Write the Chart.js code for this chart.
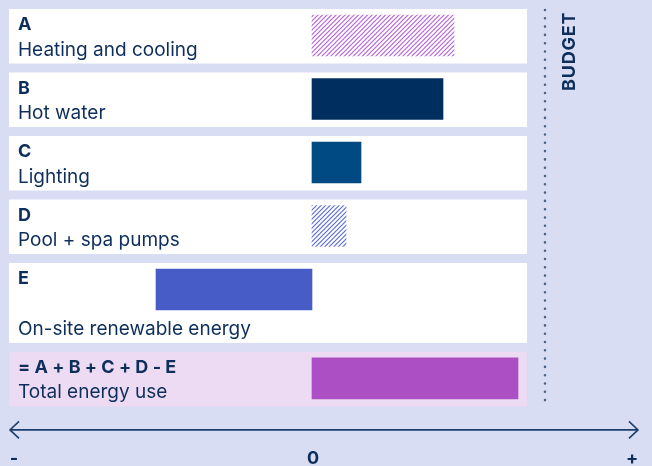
<!DOCTYPE html>
<html><head><meta charset="utf-8">
<script src="https://cdn.jsdelivr.net/npm/chart.js@4/dist/chart.umd.min.js"></script>
<style>
html,body{margin:0;padding:0;background:#D9DDF3;}
#wrap{width:652px;height:466px;position:relative;}
</style>
</head><body>
<div id="wrap"><canvas id="c"></canvas></div>
<script>
// ---- data ----
const letters = ['A', 'B', 'C', 'D', 'E', '= A + B + C + D - E'];
const labels = ['Heating and cooling', 'Hot water', 'Lighting', 'Pool + spa pumps', 'On-site renewable energy', 'Total energy use'];
const values = [14.2, 13.1, 4.9, 3.4, -15.6, 20.6];
const budgetValue = 23.3;
const budgetLabel = 'BUDGET';
const axisLabels = ['-', '0', '+'];

// ---- layout / style ----
const xMin = -30.3, xMax = 32.6;
const rowSpans = [1, 1, 1, 1, 1.4, 1];
const UNIT = 63.5;               // px per row unit
const GAP = 9 / UNIT;            // gap between panels (units)
const BAR_OFF = 26.5 / UNIT;     // bar centre below panel top
const PANEL_END = 21.5;          // panel right edge in x units
const NAVY = '#0E2F5C';
const FONT = 'Inter, "Noto Sans", sans-serif';

const rowStarts = [];
rowSpans.reduce((acc, s) => { rowStarts.push(acc); return acc + s; }, 0);
const yMax = rowStarts[rowStarts.length - 1] + rowSpans[rowSpans.length - 1];

function hatch(color) {
  const s = 9;
  const cv = document.createElement('canvas');
  cv.width = s; cv.height = s;
  const c = cv.getContext('2d');
  c.fillStyle = '#ffffff'; c.fillRect(0, 0, s, s);
  c.strokeStyle = color; c.lineWidth = 1.15;
  c.beginPath();
  for (const o of [-9, -4.5, 0, 4.5, 9]) {
    c.moveTo(o - 1, s + 1); c.lineTo(o + s + 1, -1);
  }
  c.stroke();
  return document.createElement('canvas').getContext('2d').createPattern(cv, 'repeat');
}

const colors = [hatch('#B563D8'), '#002F5F', '#004A83', hatch('#5B6DD8'), '#485CC8', '#AC4FC4'];

const decor = {
  id: 'decor',
  beforeDraw(chart) {
    const ctx = chart.ctx;
    ctx.save();
    ctx.fillStyle = '#D9DDF3';
    ctx.fillRect(0, 0, chart.width, chart.height);
    ctx.restore();
  },
  beforeDatasetsDraw(chart) {
    const ctx = chart.ctx, xs = chart.scales.x, ys = chart.scales.y;
    const left = chart.chartArea.left, right = xs.getPixelForValue(PANEL_END);
    ctx.save();
    rowStarts.forEach((s, i) => {
      const top = ys.getPixelForValue(s);
      const bot = ys.getPixelForValue(s + rowSpans[i] - GAP);
      ctx.fillStyle = i === rowStarts.length - 1 ? '#EDDBF3' : '#FFFFFF';
      ctx.fillRect(left, top, right - left, bot - top);
    });
    ctx.restore();
  },
  afterDatasetsDraw(chart) {
    const ctx = chart.ctx, xs = chart.scales.x, ys = chart.scales.y;
    const left = chart.chartArea.left;
    ctx.save();
    ctx.fillStyle = NAVY;
    ctx.textAlign = 'left';
    ctx.textBaseline = 'alphabetic';
    rowStarts.forEach((s, i) => {
      const top = ys.getPixelForValue(s);
      const bot = ys.getPixelForValue(s + rowSpans[i] - GAP);
      ctx.font = 'bold 18px ' + FONT;
      ctx.fillText(letters[i], left + 9, top + 21);
      ctx.font = '19px ' + FONT;
      ctx.fillText(labels[i], left + 9, bot - 8);
    });
    // budget dotted line
    const bx = xs.getPixelForValue(budgetValue);
    const lastI = rowStarts.length - 1;
    const yTop = chart.chartArea.top + 1;
    const yBot = ys.getPixelForValue(rowStarts[lastI] + rowSpans[lastI] - GAP) - 2;
    ctx.strokeStyle = '#4A6386';
    ctx.lineWidth = 2.6;
    ctx.lineCap = 'round';
    ctx.setLineDash([0, 8.3]);
    ctx.beginPath(); ctx.moveTo(bx, yTop); ctx.lineTo(bx, yBot); ctx.stroke();
    ctx.setLineDash([]);
    // budget label
    ctx.save();
    ctx.translate(bx + 25, yTop + 81);
    ctx.rotate(-Math.PI / 2);
    ctx.font = 'bold 18px ' + FONT;
    ctx.letterSpacing = '0.8px';
    ctx.textBaseline = 'middle';
    ctx.fillText(budgetLabel, 0, 0);
    ctx.restore();
    // axis arrow
    const ay = chart.chartArea.bottom + 14.5;
    const ax0 = left + 1, ax1 = chart.chartArea.right;
    ctx.strokeStyle = '#1D3F6E';
    ctx.lineWidth = 1.8;
    ctx.lineCap = 'butt';
    ctx.beginPath(); ctx.moveTo(ax0, ay); ctx.lineTo(ax1, ay); ctx.stroke();
    ctx.lineWidth = 1.6;
    ctx.beginPath();
    ctx.moveTo(ax0 + 9, ay - 8.5); ctx.lineTo(ax0, ay); ctx.lineTo(ax0 + 9, ay + 8.5);
    ctx.moveTo(ax1 - 9, ay - 8.5); ctx.lineTo(ax1, ay); ctx.lineTo(ax1 - 9, ay + 8.5);
    ctx.stroke();
    // axis labels
    ctx.font = 'bold 18px ' + FONT;
    ctx.textAlign = 'center';
    ctx.textBaseline = 'middle';
    const ly = ay + 28.5;
    ctx.fillText(axisLabels[0], ax0 + 4, ly);
    ctx.fillText(axisLabels[1], xs.getPixelForValue(0) + 1, ly);
    ctx.fillText(axisLabels[2], ax1 - 6, ly);
    ctx.restore();
  }
};

new Chart(document.getElementById('c'), {
  type: 'bar',
  data: {
    datasets: [{
      data: values.map((v, i) => ({ x: v, y: rowStarts[i] + BAR_OFF })),
      backgroundColor: colors,
      borderWidth: 0,
      barThickness: 41
    }]
  },
  options: {
    indexAxis: 'y',
    responsive: true,
    maintainAspectRatio: false,
    animation: false,
    layout: { padding: { left: 9, right: 14, top: 9, bottom: 466 - 9 - yMax * UNIT } },
    scales: {
      x: { type: 'linear', min: xMin, max: xMax, display: false, offset: false },
      y: { type: 'linear', min: 0, max: yMax, reverse: true, display: false, offset: false }
    },
    plugins: { legend: { display: false }, tooltip: { enabled: false } }
  },
  plugins: [decor]
});
</script>
</body></html>
